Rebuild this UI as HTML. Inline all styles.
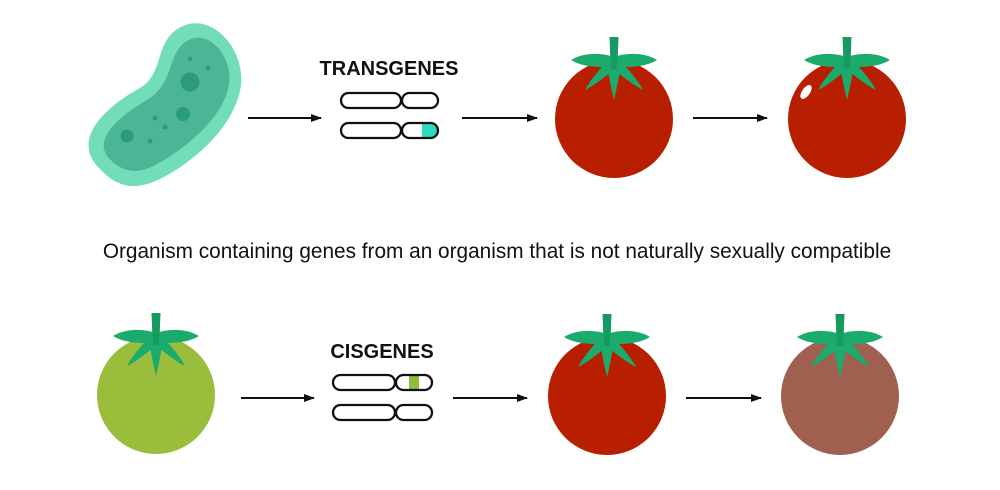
<!DOCTYPE html>
<html><head><style>
html,body{margin:0;padding:0;background:#fff;}
svg{display:block;}
</style></head><body>
<svg width="1000" height="490" viewBox="0 0 1000 490" xmlns="http://www.w3.org/2000/svg">
<defs>
<g id="calyx">
  <path d="M-4.5,-82 L4.5,-82 L3.5,-56 L-3.5,-56 Z" fill="#169a62"/>
  <path d="M0,-62 C-14,-67 -32,-66 -43,-59 C-32,-52 -14,-51 0,-53 Z" fill="#1bab6c"/>
  <path d="M0,-62 C14,-67 32,-66 43,-59 C32,-52 14,-51 0,-53 Z" fill="#1bab6c"/>
  <path d="M-5,-60 C-14,-50 -23,-40 -29,-29 C-17,-35 -6,-45 5,-53 Z" fill="#1bab6c"/>
  <path d="M5,-60 C14,-50 23,-40 29,-29 C17,-35 6,-45 -5,-53 Z" fill="#1bab6c"/>
  <path d="M-7,-58 C-6,-45 -3,-32 0,-19 C3,-32 6,-45 7,-58 Z" fill="#1bab6c"/>
  <path d="M-3.5,-62 L3.5,-62 L2.5,-50 L-2.5,-50 Z" fill="#169a62"/>
</g>
<marker id="ah" markerWidth="11" markerHeight="10" refX="10" refY="5" orient="auto" markerUnits="userSpaceOnUse">
  <path d="M0,1 L11,5 L0,9 Z" fill="#111"/>
</marker>
</defs>

<g transform="translate(163,104) rotate(-38)">
  <path d="M-90,10 C-94,-32 -40,-32 -10,-27 C20,-22 30,-54 60,-50 C96,-45 100,10 70,36 C40,62 -10,64 -45,58 C-78,52 -88,36 -90,10 Z" fill="#73ddba"/>
  <path d="M-76,10 C-78,-17 -40,-17 -10,-13 C22,-9 35,-38 58,-35 C83,-32 85,8 62,27 C38,47 -5,49 -40,44 C-66,40 -74,28 -76,10 Z" fill="#4bb596"/>
</g>
<g fill="#2a9c78">
  <circle cx="127" cy="136" r="6.5"/>
  <circle cx="190" cy="82" r="9.5"/>
  <circle cx="183" cy="114" r="7"/>
  <circle cx="155" cy="118" r="2.5"/>
  <circle cx="165" cy="127" r="2.5"/>
  <circle cx="150" cy="141" r="2.5"/>
  <circle cx="190" cy="59" r="2.3"/>
  <circle cx="208" cy="68" r="2.3"/>
</g>

<g stroke="#111" stroke-width="2">
  <line x1="248" y1="118" x2="321" y2="118" marker-end="url(#ah)"/>
  <line x1="462" y1="118" x2="537" y2="118" marker-end="url(#ah)"/>
  <line x1="693" y1="118" x2="767" y2="118" marker-end="url(#ah)"/>
  <line x1="241" y1="398" x2="314" y2="398" marker-end="url(#ah)"/>
  <line x1="453" y1="398" x2="527" y2="398" marker-end="url(#ah)"/>
  <line x1="686" y1="398" x2="761" y2="398" marker-end="url(#ah)"/>
</g>

<text x="389" y="75" text-anchor="middle" font-family="Liberation Sans, sans-serif" font-weight="bold" font-size="20" fill="#111">TRANSGENES</text>
<text x="382" y="358" text-anchor="middle" font-family="Liberation Sans, sans-serif" font-weight="bold" font-size="20" fill="#111">CISGENES</text>
<text x="497" y="258" text-anchor="middle" font-family="Liberation Sans, sans-serif" font-size="20.8" fill="#111">Organism containing genes from an organism that is not naturally sexually compatible</text>

<g fill="none" stroke="#111" stroke-width="2.3">
  <rect x="341" y="93" width="60" height="15" rx="7.5"/>
  <rect x="402" y="93" width="36" height="15" rx="7.5"/>
  <rect x="341" y="123" width="60" height="15" rx="7.5"/>
</g>
<path d="M422,123 L430.5,123 A7.5,7.5 0 0 1 430.5,138 L422,138 Z" fill="#29dcc0"/>
<rect x="402" y="123" width="36" height="15" rx="7.5" fill="none" stroke="#111" stroke-width="2.3"/>

<rect x="409" y="376" width="10" height="14" fill="#8cbc3a"/>
<g fill="none" stroke="#111" stroke-width="2.3">
  <rect x="333" y="375" width="62" height="15" rx="7.5"/>
  <rect x="396" y="375" width="36" height="15" rx="7.5"/>
  <rect x="333" y="405" width="62" height="15" rx="7.5"/>
  <rect x="396" y="405" width="36" height="15" rx="7.5"/>
</g>

<g transform="translate(614,119)"><circle r="59" fill="#b81e00"/><use href="#calyx"/></g>
<g transform="translate(847,119)"><circle r="59" fill="#b81e00"/>
  <ellipse cx="-41" cy="-27" rx="4" ry="8" transform="rotate(35 -41 -27)" fill="#fff"/>
  <use href="#calyx"/></g>
<g transform="translate(156,395)"><circle r="59" fill="#9abd3c"/><use href="#calyx"/></g>
<g transform="translate(607,396)"><circle r="59" fill="#b81e00"/><use href="#calyx"/></g>
<g transform="translate(840,396)"><circle r="59" fill="#a06050"/><use href="#calyx"/></g>
</svg>
</body></html>
